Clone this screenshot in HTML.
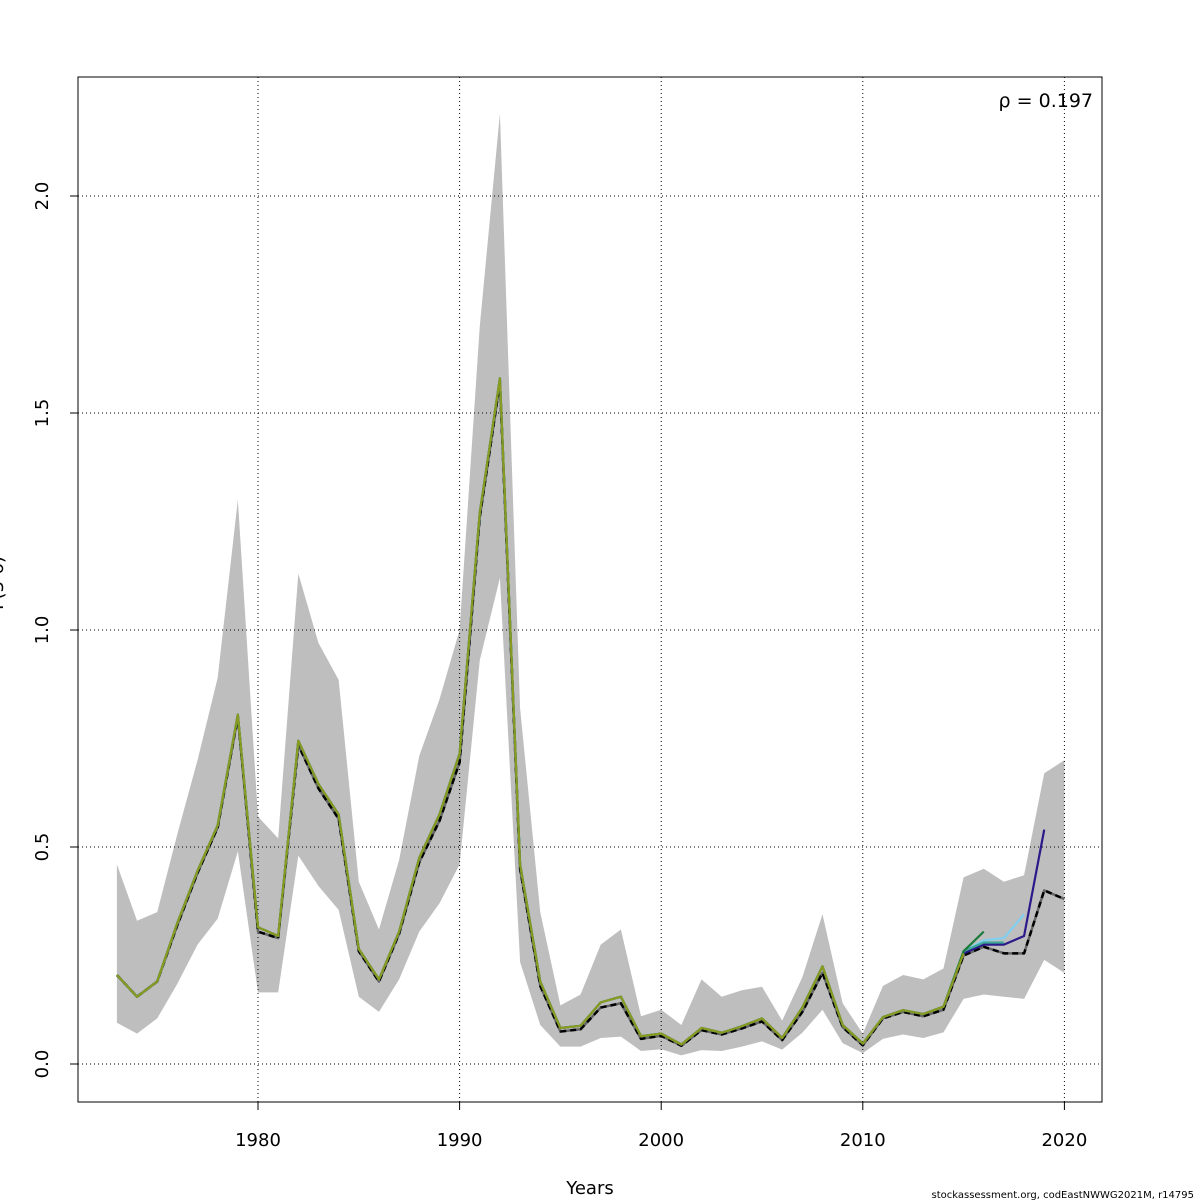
<!DOCTYPE html>
<html><head><meta charset="utf-8"><style>
html,body{margin:0;padding:0;background:#fff;}
svg{display:block;font-family:"DejaVu Sans","Liberation Sans",sans-serif;}
</style></head><body>
<svg id="chart" width="1200" height="1200" viewBox="0 0 1200 1200" xmlns="http://www.w3.org/2000/svg">
<rect width="1200" height="1200" fill="#fff"/>
<g id="band"></g>
<g id="grid"></g>
<g id="lines"></g>
<rect x="78" y="77" width="1024" height="1025" fill="none" stroke="#000" stroke-width="1"/>
<g id="axes"></g>
<text x="590" y="1194" font-size="18" text-anchor="middle">Years</text>
<text transform="translate(3,583) rotate(-90)" font-size="18" text-anchor="middle">F(3-6)</text>
<text x="1093" y="107" font-size="19" text-anchor="end">ρ = 0.197</text>
<text x="1194" y="1198" font-size="10" text-anchor="end">stockassessment.org, codEastNWWG2021M, r14795</text>
</svg>
<script>
const years=[1973,1974,1975,1976,1977,1978,1979,1980,1981,1982,1983,1984,1985,1986,1987,1988,1989,1990,1991,1992,1993,1994,1995,1996,1997,1998,1999,2000,2001,2002,2003,2004,2005,2006,2007,2008,2009,2010,2011,2012,2013,2014,2015,2016,2017,2018,2019,2020];
const baseF=[0.205,0.155,0.19,0.32,0.44,0.545,0.80,0.305,0.29,0.735,0.635,0.565,0.26,0.19,0.30,0.465,0.56,0.695,1.26,1.57,0.45,0.18,0.075,0.08,0.13,0.14,0.058,0.065,0.042,0.078,0.068,0.082,0.098,0.055,0.12,0.21,0.085,0.043,0.105,0.12,0.11,0.125,0.25,0.27,0.255,0.255,0.40,0.38];
const upperF=[0.46,0.33,0.35,0.53,0.70,0.89,1.30,0.57,0.52,1.13,0.97,0.885,0.42,0.31,0.47,0.71,0.84,1.0,1.70,2.19,0.82,0.35,0.135,0.16,0.275,0.31,0.11,0.125,0.09,0.195,0.155,0.17,0.178,0.10,0.20,0.345,0.14,0.07,0.18,0.205,0.195,0.22,0.43,0.45,0.42,0.435,0.67,0.70];
const lowerF=[0.095,0.07,0.105,0.185,0.275,0.335,0.49,0.165,0.165,0.48,0.41,0.355,0.155,0.12,0.195,0.305,0.37,0.46,0.93,1.12,0.235,0.09,0.04,0.04,0.06,0.063,0.03,0.034,0.02,0.032,0.03,0.04,0.052,0.033,0.072,0.125,0.048,0.025,0.058,0.068,0.06,0.073,0.15,0.16,0.155,0.15,0.24,0.21];
const peelHistory=[0.205,0.155,0.19,0.325,0.445,0.55,0.805,0.315,0.295,0.745,0.645,0.575,0.265,0.195,0.305,0.475,0.575,0.715,1.27,1.58,0.46,0.19,0.083,0.088,0.142,0.155,0.064,0.07,0.045,0.083,0.072,0.087,0.105,0.06,0.13,0.225,0.09,0.047,0.108,0.124,0.115,0.132];
const peel1=[0.255,0.275,0.275,0.295,0.54];
const peel2=[0.26,0.285,0.29,0.345];
const peel3=[0.26,0.28,0.28];
const peel4=[0.26,0.305];
const peel5=[0.255];
const peelColors=["#2a1a8a","#7fd0f0","#3fa898","#1a7a3a","#8a9a20"];
const xTicks=[1980,1990,2000,2010,2020];
const yTicks=[0,0.5,1.0,1.5,2.0];
const yTickLabels=["0.0","0.5","1.0","1.5","2.0"];

const NS="http://www.w3.org/2000/svg";
const X=y=>258+(y-1980)*20.16;
const Y=v=>1064-v*434;
function mk(tag,parent){const e=document.createElementNS(NS,tag);document.getElementById(parent).appendChild(e);return e;}

let pts=years.map((y,i)=>X(y)+","+Y(upperF[i]));
pts=pts.concat(years.map((y,i)=>X(y)+","+Y(lowerF[i])).reverse());
const band=mk("polygon","band");


band.setAttribute("points",pts.join(" "));band.setAttribute("fill","#bebebe");

xTicks.forEach(t=>{
 const g=mk("line","grid");
 
 
 g.setAttribute("x1",X(t));g.setAttribute("x2",X(t));g.setAttribute("y1",77);g.setAttribute("y2",1102);
 g.setAttribute("stroke","#000");g.setAttribute("stroke-dasharray","1,3");
 const tk=mk("line","axes");
 
 
 tk.setAttribute("x1",X(t));tk.setAttribute("x2",X(t));tk.setAttribute("y1",1102);tk.setAttribute("y2",1110);tk.setAttribute("stroke","#000");
 const tx=mk("text","axes");
 
 
 tx.setAttribute("x",X(t));tx.setAttribute("y",1146);tx.setAttribute("font-size","18");tx.setAttribute("text-anchor","middle");tx.textContent=t;
});
yTicks.forEach((t,i)=>{
 const g=mk("line","grid");
 
 
 g.setAttribute("x1",78);g.setAttribute("x2",1102);g.setAttribute("y1",Y(t));g.setAttribute("y2",Y(t));
 g.setAttribute("stroke","#000");g.setAttribute("stroke-dasharray","1,3");
 const tk=mk("line","axes");
 
 
 tk.setAttribute("x1",70);tk.setAttribute("x2",78);tk.setAttribute("y1",Y(t));tk.setAttribute("y2",Y(t));tk.setAttribute("stroke","#000");
 const tx=mk("text","axes");
 
 
 tx.setAttribute("transform","translate(48,"+Y(t)+") rotate(-90)");tx.setAttribute("font-size","18");tx.setAttribute("text-anchor","middle");tx.textContent=yTickLabels[i];
});

function poly(vals,color,w,dash,name){
 const p=mk("polyline","lines");
 
 
 p.setAttribute("points",vals.map((v,i)=>X(years[i])+","+Y(v)).join(" "));
 p.setAttribute("fill","none");p.setAttribute("stroke",color);p.setAttribute("stroke-width",w);
 p.setAttribute("stroke-linejoin","round");
 if(dash)p.setAttribute("stroke-dasharray",dash);
}
poly(baseF,"#666",2.5,null,"base-line-under");
poly(baseF,"#000",2.5,"6,4","base-line");
[peel1,peel2,peel3,peel4,peel5].forEach((tail,k)=>{
 poly(peelHistory.concat(tail),peelColors[k],2.2,null,"peel-line-"+(k+1));
});
</script>
</body></html>
